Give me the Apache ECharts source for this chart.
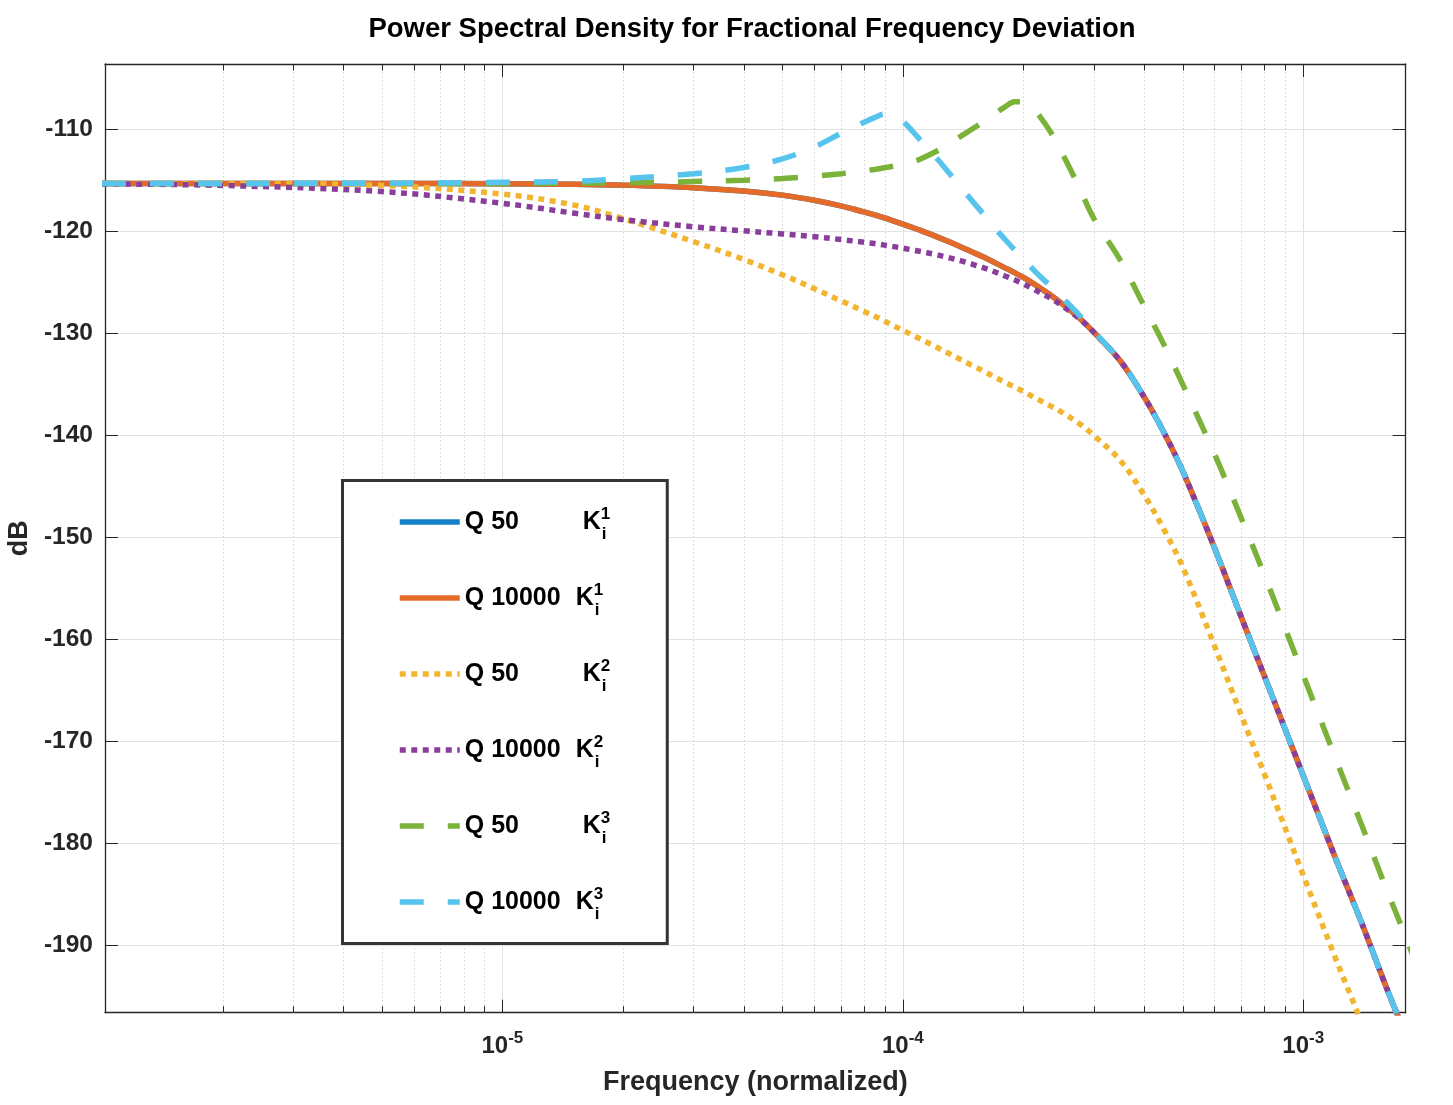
<!DOCTYPE html>
<html><head><meta charset="utf-8">
<script src="https://cdn.jsdelivr.net/npm/echarts@6/dist/echarts.min.js"></script>
<style>html,body{margin:0;padding:0;background:#fff}#c{width:1453px;height:1105px}</style>
</head><body><div id="c"></div>
<script>
// ---- data ----
const freq = [1e-6, 2e-6, 5e-6, 1e-5, 1.5e-5, 2e-5, 3e-5, 4e-5, 5e-5, 6e-5,
  7e-5, 8e-5, 8.5e-5, 9e-5, 9.5e-5, 1e-4, 1.05e-4, 1.1e-4, 1.2e-4, 1.3e-4,
  1.4e-4, 1.5e-4, 1.6e-4, 1.7e-4, 1.8e-4, 1.9e-4, 2e-4, 2.1e-4, 2.2e-4, 2.35e-4,
  2.5e-4, 2.75e-4, 3e-4, 3.5e-4, 4e-4, 4.5e-4, 5e-4, 6e-4, 7e-4, 8e-4,
  1e-3, 1.2e-3, 1.4e-3, 1.6e-3, 1.8e-3, 2e-3];

const q50K1 = [-115.3, -115.3, -115.31, -115.33, -115.38, -115.47, -115.72, -116.05, -116.45, -116.95,
  -117.5, -118.1, -118.38, -118.68, -119.0, -119.3, -119.58, -119.87, -120.44, -121.0,
  -121.55, -122.07, -122.57, -123.09, -123.58, -124.04, -124.52, -125.02, -125.55, -126.3,
  -127.1, -128.45, -129.9, -132.75, -136.2, -139.8, -143.5, -151.0, -157.8, -163.6,
  -173.35, -181.3, -187.8, -193.75, -198.75, -203.3];

const q10000K1 = [-115.3, -115.3, -115.31, -115.33, -115.38, -115.47, -115.72, -116.05, -116.45, -116.95,
  -117.5, -118.1, -118.38, -118.68, -119.0, -119.3, -119.58, -119.87, -120.44, -121.0,
  -121.55, -122.07, -122.57, -123.09, -123.58, -124.04, -124.52, -125.02, -125.55, -126.3,
  -127.1, -128.45, -129.9, -132.75, -136.2, -139.8, -143.5, -151.0, -157.8, -163.6,
  -173.35, -181.3, -187.8, -193.75, -198.75, -203.3];

const q50K2 = [-115.3, -115.3, -115.5, -116.35, -117.4, -118.75, -121.0, -122.75, -124.25, -125.6,
  -126.8, -127.85, -128.32, -128.8, -129.27, -129.7, -130.1, -130.5, -131.25, -131.95,
  -132.6, -133.2, -133.75, -134.3, -134.8, -135.25, -135.7, -136.15, -136.57, -137.15,
  -137.75, -138.8, -140.0, -142.5, -145.8, -149.3, -152.9, -160.6, -167.4, -173.2,
  -183.1, -191.1, -197.6, -203.6, -208.6, -213.1];

const q10000K2 = [-115.35, -115.5, -116.1, -117.25, -118.2, -118.85, -119.55, -119.95, -120.25, -120.52,
  -120.8, -121.07, -121.2, -121.35, -121.5, -121.65, -121.8, -121.95, -122.25, -122.57,
  -122.9, -123.25, -123.6, -123.98, -124.37, -124.75, -125.15, -125.58, -126.0, -126.6,
  -127.3, -128.5, -129.9, -132.75, -136.2, -139.8, -143.5, -151.0, -157.8, -163.6,
  -173.35, -181.3, -187.8, -193.75, -198.75, -203.3];

const q50K3 = [-115.3, -115.3, -115.3, -115.3, -115.28, -115.25, -115.12, -115.0, -114.82, -114.6,
  -114.35, -114.07, -113.93, -113.77, -113.6, -113.42, -113.22, -112.95, -112.25, -111.45,
  -110.65, -109.9, -109.15, -108.45, -107.8, -107.3, -107.3, -107.9, -108.75, -110.4,
  -112.35, -115.6, -118.75, -122.9, -127.3, -131.2, -135.0, -141.8, -148.1, -153.7,
  -163.5, -171.5, -178.2, -184.1, -189.1, -193.7];

const q10000K3 = [-115.3, -115.3, -115.28, -115.2, -115.1, -114.85, -114.35, -113.75, -112.9, -111.75,
  -110.4, -109.3, -108.85, -108.5, -108.6, -109.2, -110.05, -110.95, -112.6, -114.2,
  -115.75, -117.15, -118.45, -119.7, -120.8, -121.8, -122.7, -123.6, -124.4, -125.45,
  -126.5, -128.15, -129.8, -132.75, -136.2, -139.8, -143.5, -151.0, -157.8, -163.6,
  -173.35, -181.3, -187.8, -193.75, -198.75, -203.3];

const seriesNames = ['Q 50 K1', 'Q 10000 K1', 'Q 50 K2', 'Q 10000 K2', 'Q 50 K3', 'Q 10000 K3'];
const qLabels = ['Q 50', 'Q 10000', 'Q 50', 'Q 10000', 'Q 50', 'Q 10000'];
const kLabels = ['1', '1', '2', '2', '3', '3'];
const seriesValues = [q50K1, q10000K1, q50K2, q10000K2, q50K3, q10000K3];

// log-axis tick structure
const majorDecades = [-6, -5, -4, -3];
const minorMultipliers = [2, 3, 4, 5, 6, 7, 8, 9];

// ---- presentation ----
const F = "'Liberation Sans', Arial, Helvetica, sans-serif";
const AX = '#262626';
const xMin = -5.9925, xMax = -2.7442, yMin = -196.57, yMax = -103.6;

const lineStyles = [
  { color: '#1581c6', type: 'solid' },
  { color: '#e36a29', type: 'solid' },
  { color: '#f2b530', type: [6, 5.5] },
  { color: '#8a3e9b', type: [6, 5.5] },
  { color: '#7ab23a', type: [24, 24] },
  { color: '#57c4ee', type: [24, 24] }
];

const minorTicks = [];
majorDecades.forEach(d => minorMultipliers.forEach(m => {
  const v = d + Math.log10(m);
  if (v > xMin && v < xMax) minorTicks.push(v);
}));

const isInt = v => Math.abs(v - Math.round(v)) < 1e-6;

const series = seriesNames.map((name, i) => ({
  name, type: 'line', symbol: 'none', showSymbol: false, smooth: 0.35,
  xAxisIndex: 0, yAxisIndex: 0, z: 3 + i,
  data: freq.map((f, j) => [Math.log10(f), seriesValues[i][j]]),
  lineStyle: { color: lineStyles[i].color, width: 5.5, type: lineStyles[i].type, cap: 'butt' },
  itemStyle: { color: lineStyles[i].color },
  emphasis: { disabled: true }
}));

series.unshift({
  name: 'minor grid', type: 'custom', xAxisIndex: 0, yAxisIndex: 0, silent: true, z: 1,
  data: minorTicks.map(v => [v, yMin]),
  renderItem(params, api) {
    const x = Math.round(api.coord([api.value(0), yMin])[0]) + 0.5;
    const cs = params.coordSys;
    const top = cs.y, bot = cs.y + cs.height;
    return { type: 'group', children: [
      { type: 'line', shape: { x1: x, y1: top, x2: x, y2: bot }, style: { stroke: '#d2d2d2', lineWidth: 1, lineDash: [1.5, 2.5] } },
      { type: 'line', shape: { x1: x, y1: bot, x2: x, y2: bot - 6.5 }, style: { stroke: AX, lineWidth: 1 } },
      { type: 'line', shape: { x1: x, y1: top, x2: x, y2: top + 6.5 }, style: { stroke: AX, lineWidth: 1 } }
    ] };
  }
});

const axisCommon = {
  type: 'value',
  axisLine: { show: true, onZero: false, lineStyle: { color: AX, width: 1.3 } },
  axisTick: { show: true, inside: true, length: 13, lineStyle: { color: AX, width: 1 } }
};

const chart = echarts.init(document.getElementById('c'), null, { renderer: 'canvas' });
chart.setOption({
  animation: false,
  backgroundColor: '#fff',
  title: {
    text: 'Power Spectral Density for Fractional Frequency Deviation',
    left: 752, top: 15, textAlign: 'center', padding: 0,
    textStyle: { fontSize: 27.5, fontWeight: 'bold', color: '#000', fontFamily: F }
  },
  grid: { left: 105, right: 47.3, top: 64, bottom: 92.3, containLabel: false, outerBoundsMode: 'none' },
  xAxis: [
    Object.assign({}, axisCommon, {
      position: 'bottom', min: xMin, max: xMax, splitNumber: 4,
      name: 'Frequency (normalized)', nameLocation: 'middle', nameGap: 56,
      nameTextStyle: { fontSize: 27, fontWeight: 'bold', color: AX, fontFamily: F },
      splitLine: { show: true, lineStyle: { color: '#e2e2e2', width: 1 } },
      axisLabel: {
        margin: 17, hideOverlap: false,
        formatter: v => isInt(v) && v > xMin + 0.01 ? '{b|10}{s|' + Math.round(v) + '}' : '',
        rich: {
          b: { fontSize: 24, fontWeight: 'bold', color: AX, fontFamily: F },
          s: { fontSize: 17, fontWeight: 'bold', color: AX, fontFamily: F, padding: [0, 0, 16, 0] }
        }
      }
    }),
    Object.assign({}, axisCommon, {
      position: 'top', min: xMin, max: xMax, splitNumber: 4,
      splitLine: { show: false }, axisLabel: { show: false }
    })
  ],
  yAxis: [
    Object.assign({}, axisCommon, {
      position: 'left', min: yMin, max: yMax, splitNumber: 9,
      name: 'dB', nameLocation: 'middle', nameGap: 62,
      nameTextStyle: { fontSize: 27, fontWeight: 'bold', color: AX, fontFamily: F },
      splitLine: { show: true, lineStyle: { color: '#e2e2e2', width: 1 } },
      axisLabel: {
        margin: 12, fontSize: 24.5, fontWeight: 'bold', color: AX, fontFamily: F,
        formatter: v => isInt(v / 10) ? String(Math.round(v)) : ''
      }
    }),
    Object.assign({}, axisCommon, {
      position: 'right', min: yMin, max: yMax, splitNumber: 9,
      splitLine: { show: false }, axisLabel: { show: false }
    })
  ],
  legend: {
    data: seriesNames, orient: 'vertical', left: 342.5, top: 480.5,
    padding: [25, 57, 21, 54.5], itemGap: 39, itemWidth: 60, itemHeight: 41,
    backgroundColor: '#fff', borderColor: '#333', borderWidth: 3, borderRadius: 0,
    selectedMode: false,
    itemStyle: { opacity: 0, borderWidth: 0 },
    lineStyle: { width: 5.5 },
    formatter: name => {
      const i = seriesNames.indexOf(name);
      const q = qLabels[i] === 'Q 50' ? 'qa' : 'qb';
      return '{' + q + '|' + qLabels[i] + '}{k|K}{sup|' + kLabels[i] + '}{sub|i}';
    },
    textStyle: {
      fontSize: 25, fontWeight: 'bold', color: '#000', fontFamily: F,
      rich: {
        qa: { fontSize: 25, fontWeight: 'bold', color: '#000', fontFamily: F, width: 118 },
        qb: { fontSize: 25, fontWeight: 'bold', color: '#000', fontFamily: F, width: 111 },
        k: { fontSize: 25, fontWeight: 'bold', color: '#000', fontFamily: F },
        sup: { fontSize: 17, fontWeight: 'bold', color: '#000', fontFamily: F, width: 1, padding: [0, 0, 16, 0] },
        sub: { fontSize: 17, fontWeight: 'bold', color: '#000', fontFamily: F, padding: [24, 0, 0, 0] }
      }
    }
  },
  series
});
</script></body></html>
